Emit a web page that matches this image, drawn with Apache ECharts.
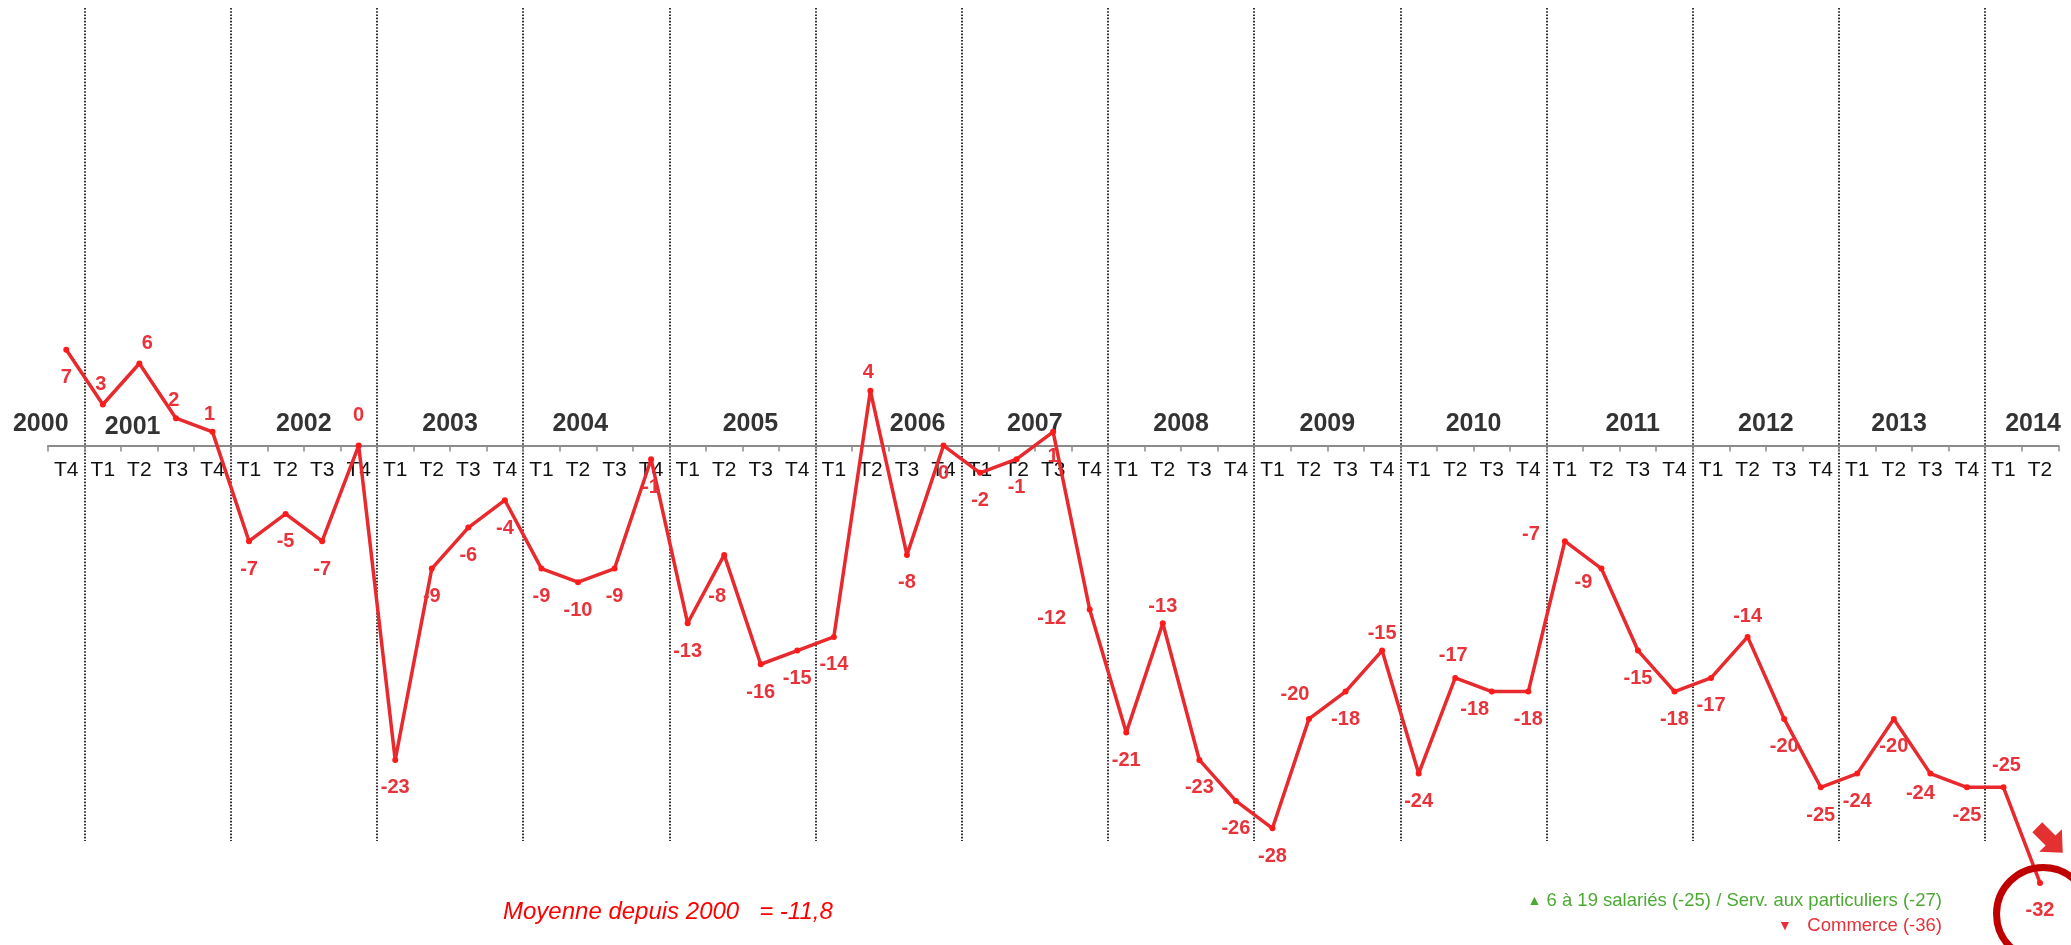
<!DOCTYPE html>
<html><head><meta charset="utf-8">
<script src="https://cdn.jsdelivr.net/npm/echarts@6/dist/echarts.min.js"></script>
<style>html,body{margin:0;padding:0;background:#fff}#c{width:2071px;height:945px}</style>
</head><body><div id="c"></div>
<script>
// ---- data ----
const periods = [
  '2000-T4',
  '2001-T1','2001-T2','2001-T3','2001-T4',
  '2002-T1','2002-T2','2002-T3','2002-T4',
  '2003-T1','2003-T2','2003-T3','2003-T4',
  '2004-T1','2004-T2','2004-T3','2004-T4',
  '2005-T1','2005-T2','2005-T3','2005-T4',
  '2006-T1','2006-T2','2006-T3','2006-T4',
  '2007-T1','2007-T2','2007-T3','2007-T4',
  '2008-T1','2008-T2','2008-T3','2008-T4',
  '2009-T1','2009-T2','2009-T3','2009-T4',
  '2010-T1','2010-T2','2010-T3','2010-T4',
  '2011-T1','2011-T2','2011-T3','2011-T4',
  '2012-T1','2012-T2','2012-T3','2012-T4',
  '2013-T1','2013-T2','2013-T3','2013-T4',
  '2014-T1','2014-T2'
];
const values = [
  7,
  3, 6, 2, 1,
  -7, -5, -7, 0,
  -23, -9, -6, -4,
  -9, -10, -9, -1,
  -13, -8, -16, -15,
  -14, 4, -8, 0,
  -2, -1, 1, -12,
  -21, -13, -23, -26,
  -28, -20, -18, -15,
  -24, -17, -18, -18,
  -7, -9, -15, -18,
  -17, -14, -20, -25,
  -24, -20, -24, -25,
  -25, -32
];
const years = ['2000','2001','2002','2003','2004','2005','2006','2007','2008','2009','2010','2011','2012','2013','2014'];
const averageText = 'Moyenne depuis 2000   = -11,8';
const noteUp = '6 à 19 salariés (-25) / Serv. aux particuliers (-27)';
const noteDown = 'Commerce (-36)';

// ---- label placement (kept apart from the data) ----
const defaultLabelOffset = [0, 28];
const labelOffsets = {
  1: [-2, -20], 2: [8, -20], 3: [-2, -18], 4: [-3, -17], 8: [0, -30],
  18: [-7, 42], 22: [-2, -18], 27: [0, 25], 28: [-38, 9], 30: [0, -17],
  34: [-14, -24], 36: [0, -17], 38: [-2, -22], 39: [-17, 18], 41: [-34, -7],
  42: [-18, 14], 46: [0, -20], 51: [-10, 20], 53: [3, -22]
};
// pixel nudges of year labels from the middle of their quarters
const yearNudge = { '2001': [-25, 3], '2004': [-16, 0], '2005': [8, 0], '2006': [29, 0], '2011': [13, 0], '2013': [-13, 0] };

// ---- styles ----
const FONT = "'Liberation Sans', Arial, Helvetica, sans-serif";
const RED_LINE = '#E8292D';
const RED_LABEL = '#E8333A';
const GRID_L = 48, GRID_R = 12.7;
const Y_MIN = -34, Y_MAX = 32, GRID_TOP = 8.1, GRID_BOTTOM = 34.7;
const GRID_H = 945 - GRID_TOP - GRID_BOTTOM;
const zeroOffset = -GRID_H * (0 - Y_MIN) / (Y_MAX - Y_MIN);
const YEAR_LEVEL = 1.55;

const lineData = values.map((v, i) => ({
  value: v,
  label: { offset: labelOffsets[i] || defaultLabelOffset }
}));

// year labels sit in the middle of each year's quarters
const yearData = years.map((y) => {
  const idx = periods.map((p, i) => p.startsWith(y) ? i : -1).filter(i => i >= 0);
  const first = idx[0], last = idx[idx.length - 1];
  if (idx.length < 4 && first === 0) {
    return { value: [last + 0.5, YEAR_LEVEL], name: y, label: { align: 'right', offset: [-16, 0] } };
  }
  if (idx.length < 4 && last === periods.length - 1) {
    return { value: [first - 0.5, YEAR_LEVEL], name: y, label: { align: 'left', offset: [20, 0] } };
  }
  return { value: [(first + last) / 2, YEAR_LEVEL], name: y, label: { offset: yearNudge[y] || [0, 0] } };
});

const last = periods.length - 1;

const option = {
  animation: false,
  backgroundColor: '#ffffff',
  grid: [
    { left: GRID_L, right: GRID_R, top: GRID_TOP, bottom: GRID_BOTTOM, containLabel: false },
    { left: GRID_L, right: GRID_R, top: 8, bottom: 104, containLabel: false }
  ],
  xAxis: [
    {
      type: 'category', gridIndex: 0, data: periods, boundaryGap: true,
      position: 'bottom', offset: zeroOffset,
      axisLine: { show: true, onZero: false, lineStyle: { color: '#8a8a8a', width: 2 } },
      axisTick: { show: true, interval: 0, length: 6, lineStyle: { color: '#8a8a8a', width: 1.5 } },
      axisLabel: {
        show: true, interval: 0, margin: 14, color: '#111', fontSize: 21, fontFamily: FONT,
        formatter: v => v.split('-')[1]
      },
      splitLine: { show: false }
    },
    { type: 'value', gridIndex: 0, min: -0.5, max: periods.length - 0.5, show: false },
    {
      type: 'category', gridIndex: 1, data: periods, boundaryGap: true,
      axisLine: { show: false }, axisTick: { show: false }, axisLabel: { show: false },
      splitLine: {
        show: true, showMinLine: true, showMaxLine: false,
        interval: (i, v) => typeof v === 'string' && v.endsWith('T1'),
        lineStyle: { type: 'dotted', color: '#000', width: 1.6 }
      }
    }
  ],
  yAxis: [
    { type: 'value', gridIndex: 0, min: Y_MIN, max: Y_MAX, show: false, splitLine: { show: false } },
    { type: 'value', gridIndex: 1, min: 0, max: 1, show: false, splitLine: { show: false } }
  ],
  series: [
    {
      type: 'line', xAxisIndex: 0, yAxisIndex: 0, data: lineData,
      symbol: 'circle', symbolSize: 6, showAllSymbol: true, clip: false,
      lineStyle: { color: RED_LINE, width: 3.5 },
      itemStyle: { color: '#FF1A1A' },
      label: {
        show: true, position: 'inside', color: RED_LABEL, fontSize: 20,
        fontWeight: 'bold', fontFamily: FONT
      },
      markPoint: {
        label: { show: false },
        data: [
          {
            coord: [periods[last], values[last]], symbol: 'circle', symbolSize: 93,
            symbolOffset: [3, 31],
            itemStyle: { color: 'rgba(0,0,0,0)', borderColor: '#C00000', borderWidth: 7 }
          },
          {
            coord: [periods[last], values[last]],
            symbol: 'path://M0,30 L52,30 L52,4 L100,50 L52,96 L52,70 L0,70 Z',
            symbolSize: [36, 32], symbolRotate: -45, symbolOffset: [10, -43],
            itemStyle: { color: '#E33030' }
          }
        ]
      }
    },
    {
      type: 'scatter', xAxisIndex: 1, yAxisIndex: 0, data: yearData,
      symbolSize: 1, itemStyle: { color: 'rgba(0,0,0,0)' },
      label: {
        show: true, position: 'inside', formatter: p => p.name,
        color: '#000', fontSize: 25, fontWeight: 'bold', fontFamily: FONT
      }
    }
  ],
  graphic: [
    {
      type: 'text', x: 503, y: 912,
      style: {
        text: averageText, fill: '#FF0000', font: "italic 24px 'Liberation Sans', Arial, sans-serif",
        textAlign: 'left', textVerticalAlign: 'middle', align: 'left', verticalAlign: 'middle'
      }
    },
    {
      type: 'text', x: 1942, y: 901,
      style: {
        text: '{t|▲} ' + noteUp, fill: '#4CAA34', font: "18.5px 'Liberation Sans', Arial, sans-serif",
        textAlign: 'right', textVerticalAlign: 'middle', align: 'right', verticalAlign: 'middle',
        rich: { t: { fontSize: 14, fill: '#4CAA34', fontFamily: FONT } }
      }
    },
    {
      type: 'text', x: 1942, y: 926,
      style: {
        text: '{t|▼}   ' + noteDown, fill: '#E8303A', font: "18.5px 'Liberation Sans', Arial, sans-serif",
        textAlign: 'right', textVerticalAlign: 'middle', align: 'right', verticalAlign: 'middle',
        rich: { t: { fontSize: 14, fill: '#E8303A', fontFamily: FONT } }
      }
    }
  ]
};

const chart = echarts.init(document.getElementById('c'), null, { renderer: 'canvas' });
chart.setOption(option);
</script>
</body></html>
